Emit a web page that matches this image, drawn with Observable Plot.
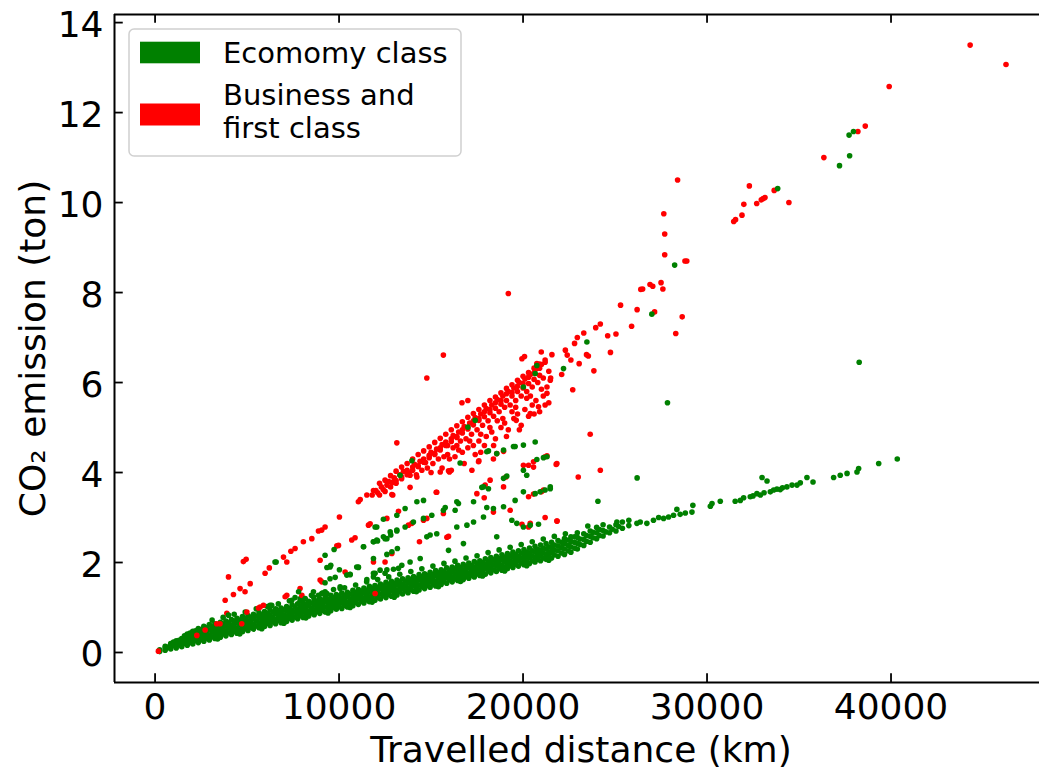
<!DOCTYPE html>
<html><head><meta charset="utf-8">
<script src="https://cdn.jsdelivr.net/npm/d3@7"></script>
<script src="https://cdn.jsdelivr.net/npm/@observablehq/plot@0.6"></script>
<style>html,body{margin:0;padding:0;background:#fff;overflow:hidden}</style>
</head><body><div id="chart"></div>
<script>
// ---------- data ----------
const xTicks = [0, 10000, 20000, 30000, 40000];
const yTicks = [0, 2, 4, 6, 8, 10, 12, 14];
const xDomain = [-2205, 48070];
const yDomain = [-0.667, 14.18];
const seriesNames = ["Ecomomy class", "Business and", "first class"];
const seriesColors = ["green", "red"];

// dense economy band: [distance km, [CO2 tons ...]]
const ecoBandColumns = [
  [250,[0.02,0.06]],[550,[0.05,0.1,0.14]],[850,[0.08,0.14,0.2]],[1150,[0.1,0.18,0.26]],
  [1450,[0.13,0.22,0.31]],[1750,[0.16,0.25,0.35,0.41]],[2050,[0.19,0.29,0.39,0.47]],
  [2350,[0.22,0.32,0.43,0.53]],[2650,[0.25,0.35,0.46,0.58]],[2950,[0.28,0.38,0.5,0.62]],
  [3250,[0.31,0.42,0.53,0.64]],[3550,[0.34,0.45,0.56,0.67]],[3850,[0.37,0.47,0.59,0.7]],
  [4150,[0.4,0.51,0.61,0.73]],[4450,[0.43,0.54,0.66,0.76]],[4750,[0.46,0.56,0.68,0.8]],
  [5050,[0.49,0.6,0.7,0.82]],[5350,[0.52,0.63,0.75,0.85]],[5650,[0.55,0.65,0.77,0.89]],
  [5950,[0.58,0.69,0.8,0.91]],[6250,[0.6,0.72,0.83,0.95]],[6550,[0.64,0.74,0.86,0.97]],
  [6850,[0.66,0.78,0.88,0.99]],[7150,[0.69,0.8,0.92,1.02]],[7450,[0.72,0.83,0.94,1.06]],
  [7750,[0.75,0.86,0.96,1.08]],[8050,[0.78,0.9,1.0,1.11]],[8350,[0.81,0.92,1.04,1.14]],
  [8650,[0.84,0.95,1.06,1.18]],[8950,[0.87,0.98,1.09,1.2]],[9250,[0.9,1.01,1.13,1.23]],
  [9550,[0.93,1.04,1.15,1.27]],[9850,[0.96,1.07,1.18,1.29]],[10150,[0.98,1.1,1.2,1.32]],
  [10450,[1.01,1.12,1.24,1.34]],[10750,[1.04,1.15,1.26,1.38]],[11050,[1.07,1.19,1.29,1.4]],
  [11350,[1.1,1.21,1.33,1.43]],[11650,[1.13,1.24,1.35,1.47]],[11950,[1.16,1.28,1.38,1.49]],
  [12250,[1.19,1.3,1.42,1.52]],[12550,[1.22,1.33,1.44,1.56]],[12850,[1.25,1.37,1.47,1.58]],
  [13150,[1.28,1.39,1.51,1.61]],[13450,[1.3,1.42,1.52,1.64]],[13750,[1.33,1.44,1.56,1.66]],
  [14050,[1.36,1.48,1.58,1.69]],[14350,[1.39,1.5,1.62,1.73]],[14650,[1.42,1.53,1.64,1.75]],
  [14950,[1.45,1.57,1.67,1.78]],[15250,[1.48,1.59,1.71,1.82]],[15550,[1.51,1.62,1.73,1.84]],
  [15850,[1.54,1.66,1.76,1.88]],[16150,[1.57,1.68,1.8,1.9]],[16450,[1.6,1.71,1.82,1.94]],
  [16750,[1.62,1.74,1.84,1.96]],[17050,[1.65,1.76,1.88,1.99]],[17350,[1.68,1.8,1.9,2.02]],
  [17650,[1.71,1.82,1.94,2.04]],[17950,[1.74,1.86,1.96,2.08]],[18250,[1.77,1.88,2.0,2.11]],
  [18550,[1.8,1.92,2.02,2.14]],[18850,[1.83,1.94,2.06,2.17]],[19150,[1.86,1.98,2.08,2.2]],
  [19450,[1.89,2.0,2.12,2.23]],[19750,[1.92,2.04,2.14,2.26]],[20050,[1.95,2.06,2.18,2.29]],
  [20350,[1.98,2.1,2.2,2.32]],[20650,[2.01,2.12,2.24,2.36]],[20950,[2.04,2.16,2.27,2.39]],
  [21250,[2.07,2.18,2.3,2.42]],[21550,[2.1,2.22,2.33,2.45]],[21900,[2.14,2.26,2.37,2.49]],
  [22250,[2.18,2.3,2.42,2.53]],[22600,[2.23,2.35,2.47,2.57]],[22950,[2.3,2.43,2.56,2.66]],
  [23300,[2.38,2.51,2.64]],[23650,[2.45,2.58,2.7]],[24000,[2.53,2.66,2.78]],
  [24350,[2.59,2.71,2.84]],[24700,[2.66,2.79]],[25050,[2.7,2.84]],[25400,[2.76,2.9]],[25750,[2.82,2.94]]
];

// in-between economy band columns (the band is solid in the picture)
const ecoBandColumns2 = [
  [700,[0.12]],[1000,[0.15,0.23]],[1300,[0.17,0.27]],[1600,[0.2,0.3,0.37]],[1900,[0.23,0.34,0.43]],
  [2200,[0.26,0.37,0.48]],[2500,[0.29,0.4,0.51]],[2800,[0.32,0.43,0.55]],[3100,[0.35,0.46,0.57]],
  [3400,[0.38,0.49,0.6]],[3700,[0.41,0.52,0.63]],[4000,[0.44,0.55,0.66]],[4300,[0.47,0.58,0.69]],
  [4600,[0.5,0.61,0.72]],[4900,[0.53,0.64,0.75]],[5200,[0.56,0.67,0.78]],[5500,[0.59,0.7,0.81]],
  [5800,[0.62,0.73,0.84]],[6100,[0.65,0.76,0.87]],[6400,[0.68,0.79,0.9]],[6700,[0.71,0.82,0.93]],
  [7000,[0.73,0.84,0.95]],[7300,[0.76,0.87,0.98]],[7600,[0.79,0.9,1.01]],[7900,[0.82,0.93,1.04]],
  [8200,[0.85,0.96,1.07]],[8500,[0.88,0.99,1.1]],[8800,[0.91,1.02,1.13]],[9100,[0.94,1.05,1.16]],
  [9400,[0.97,1.08,1.19]],[9700,[1.0,1.11,1.22]],[10000,[1.03,1.14,1.25]],[10300,[1.05,1.16,1.27]],
  [10600,[1.08,1.19,1.3]],[10900,[1.11,1.22,1.33]],[11200,[1.14,1.25,1.36]],[11500,[1.17,1.28,1.39]],
  [11800,[1.2,1.31,1.42]],[12100,[1.23,1.34,1.45]],[12400,[1.26,1.37,1.48]],[12700,[1.29,1.4,1.51]],
  [13000,[1.32,1.43,1.54]],[13300,[1.35,1.46,1.57]],[13600,[1.37,1.48,1.59]],[13900,[1.4,1.51,1.62]],
  [14200,[1.43,1.54,1.65]],[14500,[1.46,1.57,1.68]],[14800,[1.49,1.6,1.71]],[15100,[1.52,1.63,1.74]],
  [15400,[1.55,1.66,1.77]],[15700,[1.58,1.69,1.8]],[16000,[1.61,1.72,1.83]],[16300,[1.64,1.75,1.86]],
  [16600,[1.67,1.78,1.89]],[16900,[1.69,1.8,1.91]],[17200,[1.72,1.83,1.94]],[17500,[1.75,1.86,1.97]],
  [17800,[1.78,1.89,2.0]],[18100,[1.81,1.92,2.03]],[18400,[1.84,1.95,2.06]],[18700,[1.87,1.98,2.09]],
  [19000,[1.9,2.01,2.12]],[19300,[1.93,2.04,2.15]],[19600,[1.96,2.07,2.18]],[19900,[1.99,2.1,2.21]],
  [20200,[2.01,2.12,2.23]],[20500,[2.04,2.15,2.26]],[20800,[2.07,2.18,2.29]],[21100,[2.1,2.21,2.32]],
  [21400,[2.13,2.24,2.35]],[21700,[2.17,2.28,2.39]],[22100,[2.21,2.33,2.45]],[22450,[2.26,2.38,2.5]],
  [22800,[2.32,2.45,2.57]],[23100,[2.4,2.52]],[23450,[2.47,2.6]],[23800,[2.55,2.67]],[24150,[2.6,2.73]],
  [24500,[2.68]],[24850,[2.74]],[25200,[2.8]]
];

// scattered economy points along the edges of the band
const ecoBandFringe = [
  [3100,0.72],[3700,0.78],[4300,0.85],[4900,0.9],[5500,0.97],[6100,1.02],[6700,1.08],[7300,1.15],
  [7900,1.2],[8500,1.27],[9100,1.32],[9700,1.4],[10300,1.44],[10900,1.5],[11500,1.57],[12100,1.62],
  [12700,1.68],[13300,1.74],[13900,1.8],[14500,1.86],[15100,1.92],[15700,1.98],[16300,2.03],[16900,2.1],
  [17500,2.15],[18100,2.22],[18700,2.28],[19300,2.34],[19900,2.4],[20500,2.46],[21100,2.52],[21700,2.58],
  [22300,2.64],[3400,0.3],[4600,0.41],[5800,0.53],[7000,0.65],[8200,0.77],[9400,0.88],[10600,1.0],
  [11800,1.12],[13000,1.23],[14200,1.35],[15400,1.46],[16600,1.58],[17800,1.7],[19000,1.81],[20200,1.93],
  [21400,2.05]
];

// sparse economy points
const ecoSparse = [
  [3990,0.83],[6250,1.05],[6340,1.05],[7430,1.16],[7610,1.22],[7880,1.15],[8160,1.2],[7800,1.35],
  [8610,1.24],[8880,1.27],[9060,1.31],[9240,1.35],[8610,1.35],[9340,1.31],[10060,1.42],[10060,1.46],
  [9240,1.55],[9510,1.64],[9790,1.67],[10420,1.72],[10600,1.73],[11050,1.89],[11510,1.62],[11870,1.68],
  [11960,1.76],[12230,1.83],[12600,1.84],[12960,1.85],[13230,1.87],[6580,2.01],[6520,2.01],[9240,2.16],
  [9730,2.29],[9340,1.89],[9550,1.94],[9510,1.9],[10020,1.84],[10600,1.74],[11050,1.9],[11330,2.35],
  [11870,2.46],[12090,2.48],[12500,2.53],[12810,2.61],[13140,2.7],[11960,2.79],[12600,2.18],[12870,2.24],
  [13170,2.31],[11870,2.09],[12050,2.5],[12600,2.53],[13590,2.79],[14040,2.9],[14590,2.98],[15040,3.05],
  [15670,3.16],[16400,3.35],[12050,2.79],[12410,2.96],[13140,3.05],[13590,3.2],[14230,3.35],[14590,3.38],
  [15770,3.22],[16310,3.16],[16490,3.31],[17310,3.35],[13140,2.72],[12780,2.68],[12410,2.57],[11870,2.46],
  [11330,2.35],[14950,2.61],[15310,2.64],[16400,2.79],[16950,2.83],[17310,2.9],[17850,3.01],[19390,2.94],
  [19660,2.87],[20020,2.79],[20390,2.83],[20840,2.85],[18570,2.57],[16760,2.42],[15950,2.27],[14770,2.57],
  [14410,2.09],[13860,2.01],[13410,1.94],[12500,1.76],[11870,1.76],[10960,1.9],[20660,4.68],[20020,4.61],
  [19570,4.58],[18940,4.5],[18570,4.42],[18120,4.48],[16580,4.21],[13960,4.26],[13320,3.94],[21480,3.64],
  [21200,3.61],[20930,3.57],[20660,3.53],[20020,3.57],[19570,3.38],[18940,3.24],[18390,3.2],[18030,3.22],
  [17760,3.67],[18120,3.64],[18940,3.87],[19120,3.92],[20020,4.05],[20200,3.94],[20750,4.29],[21110,4.33],
  [18030,4.46],[17850,3.68],[19480,4.58],[21300,4.35],
  [17000,5.01],[17400,5.16],[20020,5.9],[20750,6.38],[20660,6.2],[22200,6.31],[23470,6.9],[27850,5.55],
  [38270,6.45],[28240,8.61],[27000,7.52],[33840,10.31],[37960,11.58],[37720,11.5],[37750,11.04],[37200,10.82],
  [26200,3.88],[24070,3.36],[23520,2.81],[25100,2.9],[21480,3.68],
  [26190,2.87],[26370,2.9],[26730,2.87],[27090,2.94],[27370,3.0],[27640,2.98],[27910,3.01],[28180,3.05],
  [28360,3.18],[28540,3.07],[28820,3.1],[29230,3.27],[29180,3.12],[30180,3.25],[30270,3.31],[30720,3.36],
  [31530,3.36],[31810,3.38],[31990,3.44],[32350,3.46],[32710,3.53],[32990,3.89],[33260,3.81],[32900,3.5],
  [33440,3.57],[33620,3.61],[33980,3.62],[34340,3.68],[34620,3.72],[34890,3.72],[35070,3.77],[35430,3.89],
  [35760,3.79],[36880,3.89],[37240,3.94],[37610,3.98],[38150,4.01],[38240,4.09],[39330,4.2],[40340,4.3],
  [32500,3.48],[33100,3.55],[33800,3.63],[34100,3.66]
];

// business and first class points
const business = [
  [44300,13.5],[46250,13.07],[39900,12.58],[38600,11.7],[38200,11.58],[36350,11.0],[34450,10.0],[33650,10.27],
  [33150,10.11],[33050,10.09],[32950,10.06],[32700,9.98],[32300,10.37],[32000,9.96],[31900,9.72],[31550,9.62],
  [31450,9.58],[28400,10.5],[27650,9.75],[27700,9.3],[27700,8.84],[28800,8.7],[28900,8.7],[27500,8.22],
  [26900,8.18],[27050,8.14],[27600,8.08],[26400,8.07],[26500,8.08],[25300,7.72],[26200,7.62],[27150,7.57],
  [28650,7.46],[28300,7.09],[25900,7.25],[24200,7.3],[23950,7.22],[23300,7.1],[22950,7.0],[22800,6.87],
  [24600,7.04],[25050,7.08],[22300,6.72],[22400,6.61],[22600,6.5],[23050,6.42],[23450,6.62],[23550,6.59],
  [22100,6.18],[24750,6.67],[23850,6.26],[22700,5.84],
  [19200,7.98],[15670,6.61],[14770,6.1],[16680,5.55],[17000,5.6],[21570,6.62],[20990,6.68],[19940,6.53],[20080,6.58],
  [23650,4.85],[24200,4.05],[23000,3.9],[21800,4.18],[21300,4.37],[21200,3.0],[21850,2.92],[21000,3.57],
  [11800,3.5],[12000,3.6],[12100,3.55],[12300,3.68],[12400,3.62],[12600,3.72],[12700,3.8],[12900,3.78],
  [13000,3.88],[13100,3.82],[13300,3.95],[13400,3.9],[13500,4.02],[13700,4.05],[13800,3.98],[14000,4.12],
  [14100,4.18],[14300,4.15],[14400,4.25],[14600,4.3],[14700,4.22],[14900,4.38],[15000,4.45],[15200,4.4],
  [15300,4.52],[15500,4.55],[15600,4.62],[15800,4.68],[15900,4.6],[16100,4.75],[16200,4.82],[16400,4.8],
  [16500,4.9],[16700,4.95],[16800,5.02],[17000,5.0],[17100,5.1],[17300,5.15],[17400,5.22],[17600,5.2],
  [17700,5.3],[17900,5.35],[18000,5.42],[18200,5.4],[18300,5.5],[18500,5.55],[18600,5.62],[18800,5.6],
  [18900,5.7],[19100,5.75],[19200,5.8],[19400,5.78],[19500,5.88],[19700,5.92],[19800,6.0],[20000,5.98],
  [20100,6.08],[20300,6.12],[20400,6.18],[20600,6.22],[20700,6.3],[20900,6.32],[21000,6.4],[21200,6.45],
  [12200,3.76],[12500,3.83],[12800,3.93],[13100,4.03],[13400,4.12],[13700,4.2],[14000,4.3],[14300,4.4],
  [14600,4.48],[14900,4.57],[15200,4.67],[15500,4.76],[15800,4.85],[16100,4.95],[16400,5.04],[16700,5.13],
  [17000,5.23],[17300,5.31],[17600,5.4],[17900,5.5],[18200,5.6],[18500,5.68],[18800,5.77],[19100,5.87],
  [19400,5.95],[19700,6.05],[20000,6.14],[20300,6.22],[20600,6.32],[20900,6.41],[21200,6.5],
  [12200,3.5],[12500,3.58],[12800,3.68],[13100,3.76],[13400,3.86],[13700,3.95],[14000,4.05],[14300,4.13],
  [14600,4.23],[14900,4.33],[15200,4.42],[15500,4.5],[15800,4.6],[16100,4.69],[16400,4.78],[16700,4.88],
  [17000,4.97],[17300,5.06],[17600,5.16],[17900,5.24],[18200,5.33],[18500,5.43],[18800,5.52],[19100,5.6],
  [19400,5.7],[19700,5.8],[20000,5.88],[20300,5.98],[20600,6.07],[20900,6.16],
  [14200,3.95],[14500,4.05],[14800,4.1],[15100,4.2],[15400,4.3],[15700,4.35],[15900,4.4],[16200,4.55],
  [16400,4.6],[16600,4.7],[16900,4.75],[17200,4.85],[17500,4.95],[17800,5.05],[18100,5.15],[18400,5.25],
  [18700,5.35],[19000,5.45],[19300,5.5],[19600,5.6],[19900,5.7],[20200,5.8],[20500,5.9],[20800,6.0],[21100,6.1],
  [15000,4.0],[15600,4.1],[16000,4.3],[16300,4.35],[16700,4.45],[17000,4.55],[17300,4.6],[17600,4.7],
  [17400,4.4],[18000,4.8],[18300,4.9],[18500,4.75],[18800,5.0],[19000,5.1],[19200,4.95],[19500,5.2],
  [19700,5.3],[19900,5.05],[20100,5.4],[20300,5.25],[20500,5.5],[20700,5.6],[20900,5.35],[21100,5.7],
  [21300,5.9],[21400,5.55],[21500,6.1],[21400,6.25],[18600,5.15],[17900,4.6],[16800,4.2],[16100,4.05],
  [20200,5.65],[19400,5.35],[16500,4.5],[17100,4.7],[17700,4.85],[18200,5.0],[18900,5.2],[19600,5.45],
  [20400,5.7],[21000,5.85],[21200,5.5],[20600,5.3],[19800,4.95],[19100,4.8],[18400,4.6],[17700,4.45],
  [17600,4.26],[15500,4.01],[16000,4.01],[17220,4.05],[15310,3.56],[12920,3.5],[18390,4.3],[18570,4.42],
  [19630,5.16],[20390,5.31],[20840,5.46],[21300,5.76],[21480,6.05],[20750,6.42],[21840,4.2],[17940,3.72],
  [17490,3.53],[19070,3.9],[20020,4.16],[20570,4.12],[21200,4.35],[11510,3.5],[13860,3.94],[14230,3.9],
  [3810,1.16],[4260,1.29],[4620,1.42],[4890,1.35],[5170,1.53],[5980,1.76],[6210,1.88],[6980,2.12],
  [7160,2.01],[7380,2.25],[7610,2.31],[8060,2.46],[8520,2.53],[8880,2.7],[9060,2.72],[9240,2.79],
  [10020,3.01],[11050,3.35],[11150,3.4],[11870,3.6],[3990,1.68],[4800,2.02],[4950,2.07],
  [4990,0.9],[5620,0.99],[5710,1.01],[5890,1.05],[7160,1.27],[7070,1.24],[7880,1.42],[7980,1.27],
  [9060,1.57],[8970,1.61],[8970,2.05],[9970,2.38],[9880,2.37],[10330,1.79],[10690,2.5],[10870,2.55],
  [11600,2.83],[11690,2.86],[12600,2.98],[13230,3.14],[11870,2.01],[12500,2.01],[12870,2.2],[13140,4.66],
  [15280,3.56],[13770,2.83],[13960,2.87],[14590,2.94],[14770,2.98],[15670,3.09],[15860,2.56],[15950,2.58],
  [14370,2.46],[17580,4.24],[18940,4.47],[18210,3.83],[18940,3.68],[17890,3.44],[20300,4.16],[20570,4.24],
  [20300,3.46],[20570,3.52],[21110,3.61],[18390,3.12],[19300,3.16],[20300,2.79],[19940,2.85],[20390,2.87],
  [13860,3.67],[15950,4.04],[12870,3.51],[21840,2.92],
  [180,0.03],[2270,0.38],[2720,0.5],[3350,0.64],[3530,0.64],[4710,0.64],[3900,0.87],[11960,1.31]
];

// ---------- layout ----------
const W = 1039, H = 769, mL = 114, mR = 0, mT = 14, mB = 87;
const pw = W - mL - mR, ph = H - mT - mB;
const tickLen = 8.75;
const font = "'DejaVu Sans', sans-serif";
const fs = 36;
const columnsToPoints = cols => cols.flatMap(([x, ys]) => ys.map(y => [x, y]));
const ecoBand = columnsToPoints(ecoBandColumns).concat(columnsToPoints(ecoBandColumns2), ecoBandFringe);
const dotR = 2.8;

const svg = Plot.plot({
  width: W, height: H,
  marginLeft: mL, marginRight: mR, marginTop: mT, marginBottom: mB,
  style: {fontFamily: font, background: "white", color: "black", overflow: "visible"},
  x: {domain: xDomain, axis: null},
  y: {domain: yDomain, axis: null},
  marks: [
    Plot.dot(ecoBand, {x: d => d[0], y: d => d[1], r: dotR, fill: seriesColors[0]}),
    Plot.dot(business, {x: d => d[0], y: d => d[1], r: dotR, fill: seriesColors[1]}),
    Plot.dot(ecoSparse, {x: d => d[0], y: d => d[1], r: dotR, fill: seriesColors[0]}),
    Plot.ruleX([xDomain[0]], {stroke: "black", strokeWidth: 2}),
    Plot.ruleY([yDomain[0]], {stroke: "black", strokeWidth: 2}),
    Plot.ruleY([yDomain[1]], {stroke: "black", strokeWidth: 2}),
    Plot.tickX(xTicks, {x: d => d, insetTop: ph - tickLen, stroke: "black", strokeWidth: 1.8}),
    Plot.tickX(xTicks, {x: d => d, insetBottom: ph - tickLen, stroke: "black", strokeWidth: 1.8}),
    Plot.tickY(yTicks, {y: d => d, insetRight: pw - tickLen, stroke: "black", strokeWidth: 1.8}),
    Plot.text(xTicks, {x: d => d, text: d => String(d), frameAnchor: "bottom", textAnchor: "middle",
      lineAnchor: "bottom", dy: 36, fontSize: fs, fill: "black"}),
    Plot.text(yTicks, {y: d => d, text: d => String(d), frameAnchor: "left", textAnchor: "end",
      lineAnchor: "bottom", dx: -11, dy: 14, fontSize: fs, fill: "black"}),
    Plot.text(["Travelled distance (km)"], {text: d => d, frameAnchor: "bottom", textAnchor: "middle",
      lineAnchor: "bottom", dy: 79, dx: 4, fontSize: fs, fill: "black"}),
    Plot.text(["CO\u2082 emission (ton)"], {text: d => d, frameAnchor: "left", textAnchor: "middle",
      rotate: -90, lineAnchor: "bottom", dx: -70, fontSize: fs, fill: "black"})
  ]
});

// ---------- legend ----------
const lg = d3.select(svg).append("g").attr("font-family", font).attr("text-anchor", "start");
lg.append("rect").attr("x", 129).attr("y", 29).attr("width", 332).attr("height", 127).attr("rx", 5)
  .attr("fill", "white").attr("fill-opacity", 0.8).attr("stroke", "#d0d0d0").attr("stroke-width", 1.5);
lg.append("rect").attr("x", 140).attr("y", 41.7).attr("width", 60).attr("height", 21.6).attr("fill", seriesColors[0]);
lg.append("rect").attr("x", 140).attr("y", 103.5).attr("width", 60).attr("height", 22).attr("fill", seriesColors[1]);
[[seriesNames[0], 63], [seriesNames[1], 105], [seriesNames[2], 137.5]].forEach(([t, y]) => {
  lg.append("text").attr("x", 223).attr("y", y).attr("font-size", 29).attr("fill", "black")
    .attr("text-anchor", "start").text(t);
});

document.getElementById("chart").appendChild(svg);
</script>
</body></html>
